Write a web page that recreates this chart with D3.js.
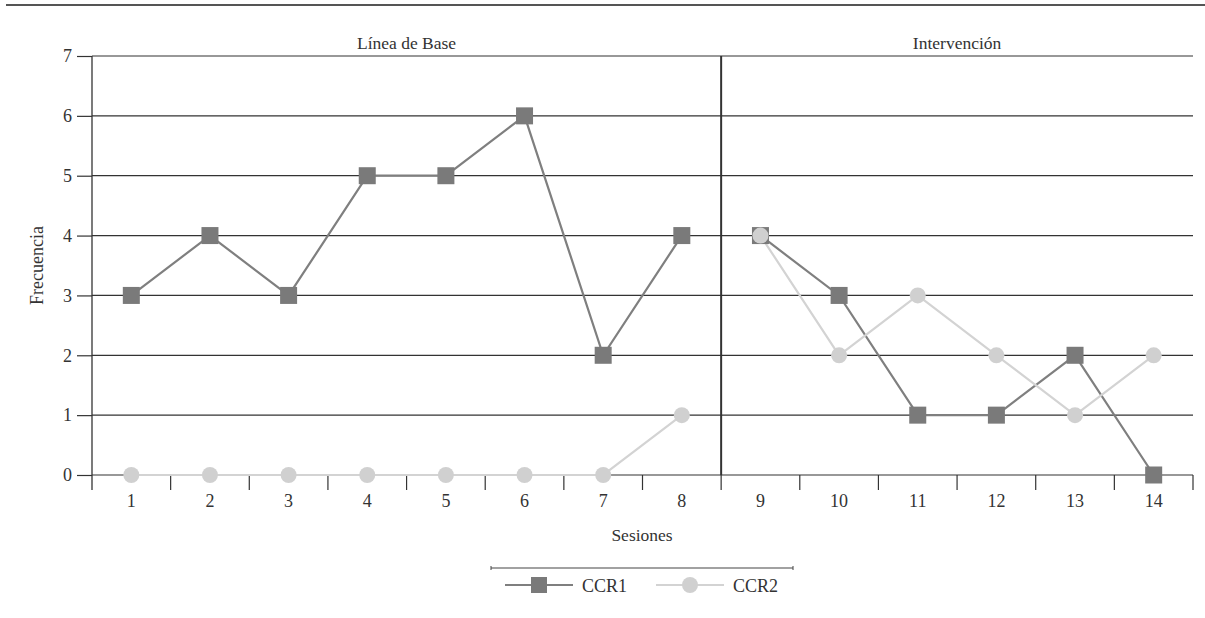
<!DOCTYPE html>
<html><head><meta charset="utf-8">
<script src="https://cdn.jsdelivr.net/npm/d3@7"></script>
<style>body{margin:0;background:#fff}svg{display:block}text{font-family:"Liberation Serif","DejaVu Serif",serif;fill:#333}</style>
</head><body><svg id="c" width="1205" height="618"></svg>
<script>
const sessions = [1,2,3,4,5,6,7,8,9,10,11,12,13,14];
const ccr1 = [3,4,3,5,5,6,2,4,4,3,1,1,2,0];
const ccr2 = [0,0,0,0,0,0,0,1,4,2,3,2,1,2];
const phases = [{name:"Línea de Base", from:1, to:8},{name:"Intervención", from:9, to:14}];
const yTicks = [0,1,2,3,4,5,6,7];
const seriesNames = ["CCR1","CCR2"];

const svg = d3.select("#c");
const L=92, R=1193, T=56, B=475;
const x = d3.scaleBand().domain(sessions).range([L,R]);
const y = d3.scaleLinear().domain([0,7]).range([B,T]);

// top rule
svg.append("line").attr("x1",6).attr("x2",1205).attr("y1",5).attr("y2",5).attr("stroke","#555").attr("stroke-width",2);

// grid
svg.append("g").selectAll("line").data(yTicks).join("line")
  .attr("x1",L).attr("x2",R).attr("y1",d=>y(d)).attr("y2",d=>y(d))
  .attr("stroke","#333").attr("stroke-width",1.2);

// y axis
const ya = svg.append("g").attr("transform",`translate(${L},0)`)
  .call(d3.axisLeft(y).tickValues(yTicks).tickSize(15).tickPadding(5).tickFormat(d3.format("d")));
ya.select(".domain").remove();
ya.selectAll("line").attr("stroke","#333").attr("stroke-width",1.2);
ya.selectAll("text").style("font-size","18px").attr("fill","#333");
svg.append("line").attr("x1",L).attr("x2",L).attr("y1",T).attr("y2",B+15).attr("stroke","#333").attr("stroke-width",1.3);

// x axis ticks at band boundaries
const bounds = sessions.map(s=>x(s)).concat([R]).slice(1);
svg.append("g").selectAll("line").data(bounds).join("line")
  .attr("x1",d=>d).attr("x2",d=>d).attr("y1",B).attr("y2",B+15)
  .attr("stroke","#333").attr("stroke-width",1.2);
svg.append("g").selectAll("text").data(sessions).join("text")
  .attr("x",d=>x(d)+x.bandwidth()/2).attr("y",B+32)
  .attr("text-anchor","middle").style("font-size","18px").text(d=>d);

// phase divider
const div = x(9);
svg.append("line").attr("x1",div).attr("x2",div).attr("y1",T).attr("y2",B).attr("stroke","#333").attr("stroke-width",2);

// phase labels
svg.append("g").selectAll("text").data(phases).join("text")
  .attr("x",p=>(x(p.from)+x(p.to)+x.bandwidth())/2).attr("y",T-7)
  .attr("text-anchor","middle").style("font-size","17.5px").text(p=>p.name);

// axis titles
svg.append("text").attr("x",642).attr("y",541).attr("text-anchor","middle").style("font-size","17.5px").text("Sesiones");
svg.append("text").attr("transform",`translate(43,${(T+B)/2}) rotate(-90)`).attr("text-anchor","middle").style("font-size","18px").text("Frecuencia");

const cx = d=>x(d)+x.bandwidth()/2;
const line = d3.line().x(d=>cx(d.s)).y(d=>y(d.v));
const styles = [{stroke:"#7f7f7f", fill:"#7a7a7a", shape:"sq"},{stroke:"#d3d3d3", fill:"#d0d0d0", shape:"ci"}];
[ccr1, ccr2].forEach((vals,i)=>{
  const st = styles[i];
  phases.forEach(p=>{
    const pts = sessions.map((s,j)=>({s, v:vals[j]})).filter(d=>d.s>=p.from && d.s<=p.to);
    svg.append("path").datum(pts).attr("d",line).attr("fill","none").attr("stroke",st.stroke).attr("stroke-width",2.2);
  });
});
[ccr1, ccr2].forEach((vals,i)=>{
  const st = styles[i];
  const pts = sessions.map((s,j)=>({s, v:vals[j]}));
  if(st.shape==="sq"){
    svg.append("g").selectAll("rect").data(pts).join("rect")
      .attr("x",d=>cx(d.s)-8.5).attr("y",d=>y(d.v)-8.5).attr("width",17).attr("height",17).attr("fill",st.fill);
  } else {
    svg.append("g").selectAll("circle").data(pts).join("circle")
      .attr("cx",d=>cx(d.s)).attr("cy",d=>y(d.v)).attr("r",8).attr("fill",st.fill);
  }
});

// legend
svg.append("line").attr("x1",491).attr("x2",793).attr("y1",568).attr("y2",568).attr("stroke","#444").attr("stroke-width",1.2);
svg.append("line").attr("x1",491).attr("x2",491).attr("y1",566).attr("y2",570).attr("stroke","#444");
svg.append("line").attr("x1",793).attr("x2",793).attr("y1",566).attr("y2",570).attr("stroke","#444");
const lg = [{x:505},{x:656}];
seriesNames.forEach((n,i)=>{
  const st = styles[i], lx = lg[i].x, ly = 585;
  svg.append("line").attr("x1",lx).attr("x2",lx+68).attr("y1",ly).attr("y2",ly).attr("stroke",st.stroke).attr("stroke-width",2);
  if(st.shape==="sq") svg.append("rect").attr("x",lx+26).attr("y",ly-8).attr("width",16).attr("height",16).attr("fill",st.fill);
  else svg.append("circle").attr("cx",lx+34).attr("cy",ly).attr("r",8).attr("fill",st.fill);
  svg.append("text").attr("x",lx+77).attr("y",ly+7).style("font-size","18px").text(n);
});
</script></body></html>
